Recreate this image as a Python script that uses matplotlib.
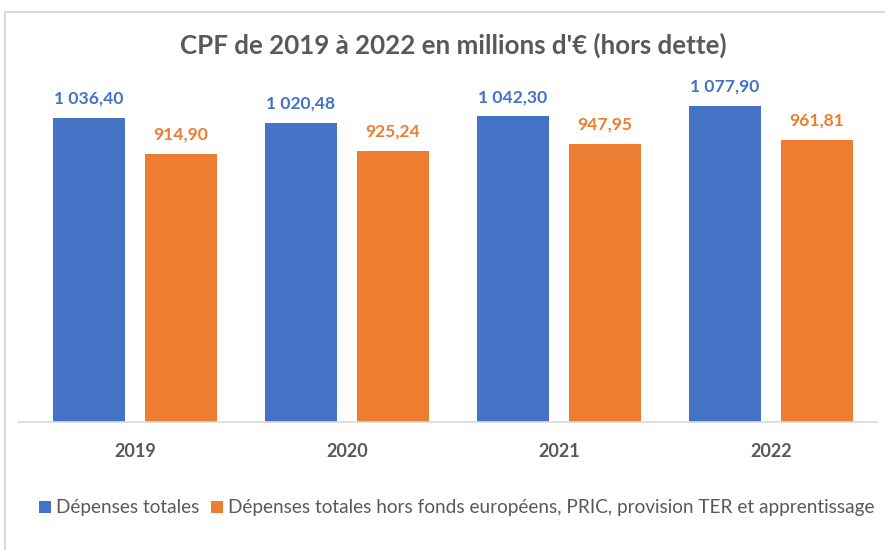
import matplotlib.pyplot as plt
import numpy as np
from matplotlib.patches import Rectangle

# données (millions d'€)
annees = ['2019', '2020', '2021', '2022']
depenses_totales = [1036.40, 1020.48, 1042.30, 1077.90]
depenses_hors = [914.90, 925.24, 947.95, 961.81]
serie_noms = ['Dépenses totales',
              'Dépenses totales hors fonds européens, PRIC, provision TER et apprentissage']

bleu = '#4472C4'
orange = '#ED7D31'
gris = '#595959'

plt.rcParams['font.family'] = ['Lato', 'DejaVu Sans']


def fr(v):
    s = f'{v:,.2f}'
    return s.replace(',', ' ').replace('.', ',')


fig = plt.figure(figsize=(8.85, 5.5), dpi=100)
ax = fig.add_axes([29 / 885, 1 - 422 / 550, 848 / 885, 352 / 550])

x = np.arange(len(annees))
w = 72 / 212
gap = 20 / 212
b1 = ax.bar(x - (w + gap) / 2, depenses_totales, w, color=bleu, label=serie_noms[0])
b2 = ax.bar(x + (w + gap) / 2, depenses_hors, w, color=orange, label=serie_noms[1])

for bars, vals, c in [(b1, depenses_totales, bleu), (b2, depenses_hors, orange)]:
    for r, v in zip(bars, vals):
        ax.annotate(fr(v), (r.get_x() + r.get_width() / 2, v), xytext=(0, 11),
                    textcoords='offset pixels', ha='center', va='bottom',
                    color=c, fontsize=12.6, fontweight='bold')

ax.set_xlim(-0.5, len(annees) - 0.5)
ax.set_ylim(0, 1200)
ax.set_yticks([])
ax.set_xticks(x)
ax.set_xticklabels(annees, fontsize=13, fontweight='bold', color=gris)
ax.tick_params(axis='x', length=0, pad=15)
for s in ['top', 'right', 'left']:
    ax.spines[s].set_visible(False)
ax.spines['bottom'].set_color('#D9D9D9')
ax.spines['bottom'].set_linewidth(1.2)
ax.spines['bottom'].set_bounds(-0.55, len(annees) - 0.5)

fig.text(453 / 885, 1 - 45 / 550, "CPF de 2019 à 2022 en millions d'€ (hors dette)",
         ha='center', va='center', fontsize=18.6, fontweight='bold', color=gris)

leg = fig.legend(loc='center', bbox_to_anchor=(457 / 885, 1 - 508 / 550), ncol=2,
                 frameon=False, fontsize=13.7, handlelength=0.6, handleheight=0.6,
                 handletextpad=0.3, columnspacing=0.6, borderaxespad=0)
for t in leg.get_texts():
    t.set_color(gris)

fig.patches.append(Rectangle((5 / 885, -0.1), 1.2, 1 - 12 / 550 + 0.1,
                             transform=fig.transFigure, fill=False,
                             edgecolor='#D9D9D9', linewidth=1.5))

fig.savefig('out.png', dpi=100)
